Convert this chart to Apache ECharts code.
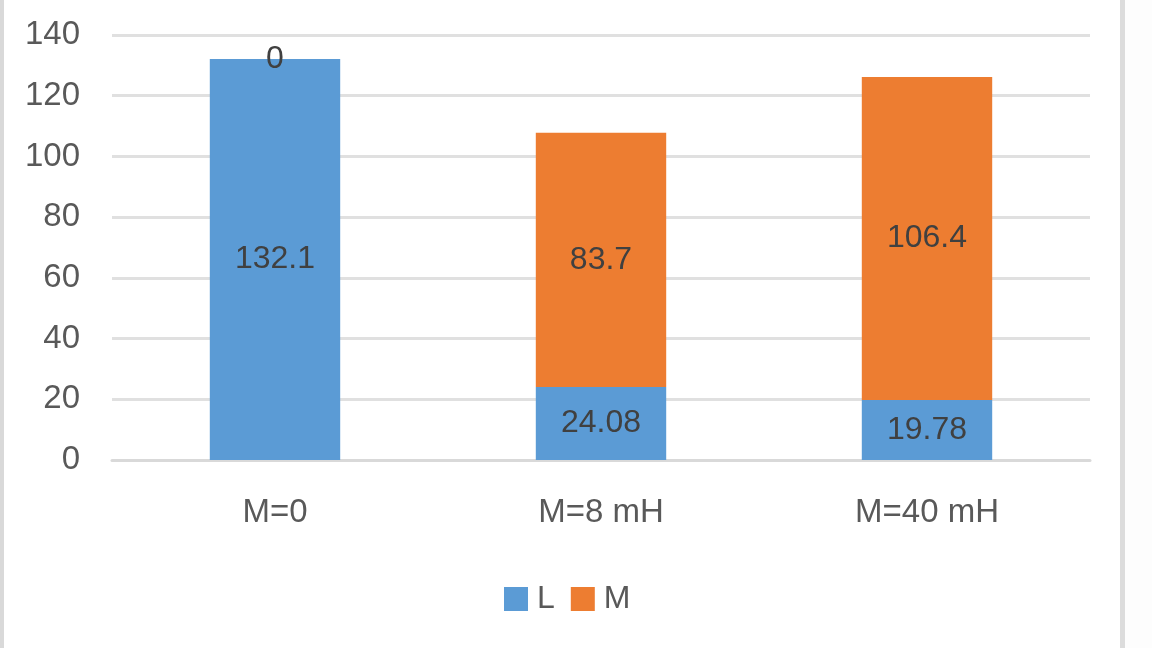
<!DOCTYPE html>
<html>
<head>
<meta charset="utf-8">
<script src="https://cdn.jsdelivr.net/npm/echarts@6/dist/echarts.min.js"></script>
<style>
html,body{margin:0;padding:0;background:#ffffff;}
#chart{width:1152px;height:648px;}
</style>
</head>
<body>
<div id="chart"></div>
<script>
const categories = ['M=0', 'M=8 mH', 'M=40 mH'];
const seriesL = [132.1, 24.08, 19.78];
const seriesM = [0, 83.7, 106.4];
const yTicks = [0, 20, 40, 60, 80, 100, 120, 140];

const chart = echarts.init(document.getElementById('chart'));
const labelStyle = {
  show: true,
  position: 'inside',
  color: '#404040',
  fontFamily: 'Liberation Sans',
  fontSize: 32
};
chart.setOption({
  backgroundColor: '#ffffff',
  animation: false,
  graphic: [
    {type: 'rect', shape: {x: 0, y: 0, width: 4, height: 648}, style: {fill: '#d9d9d9'}, z: 100},
    {type: 'rect', shape: {x: 1125, y: 0, width: 27, height: 648}, style: {fill: '#fdfdfd'}, z: 100},
    {type: 'rect', shape: {x: 1120, y: 0, width: 5, height: 648}, style: {fill: '#dcdcdc'}, z: 100}
  ],
  grid: {left: 112, right: 62, top: 35, bottom: 188, containLabel: false},
  legend: {
    data: ['L', 'M'],
    left: 499,
    top: 578,
    itemWidth: 24,
    itemHeight: 24,
    itemGap: 16,
    icon: 'rect',
    textStyle: {color: '#595959', fontFamily: 'Liberation Sans', fontSize: 32, padding: [0, 0, 0, 4]}
  },
  xAxis: {
    type: 'category',
    data: categories,
    axisLine: {show: true, lineStyle: {color: '#d9d9d9', width: 3}},
    axisTick: {show: false},
    axisLabel: {color: '#595959', fontFamily: 'Liberation Sans', fontSize: 33, margin: 36}
  },
  yAxis: {
    type: 'value',
    min: yTicks[0],
    max: yTicks[yTicks.length - 1],
    interval: 20,
    axisLine: {show: false},
    axisTick: {show: false},
    splitLine: {lineStyle: {color: '#e0e0e0', width: 3}},
    axisLabel: {color: '#595959', fontFamily: 'Liberation Sans', fontSize: 33, margin: 32}
  },
  series: [
    {
      name: 'L', type: 'bar', stack: 'total', data: seriesL,
      barWidth: '40%',
      itemStyle: {color: '#5b9bd5'},
      label: labelStyle
    },
    {
      name: 'M', type: 'bar', stack: 'total', data: seriesM,
      barWidth: '40%',
      itemStyle: {color: '#ed7d31'},
      label: Object.assign({}, labelStyle, {
        formatter: function (p) { return p.value === 0 ? '0' : String(p.value); }
      })
    }
  ]
});
</script>
</body>
</html>
